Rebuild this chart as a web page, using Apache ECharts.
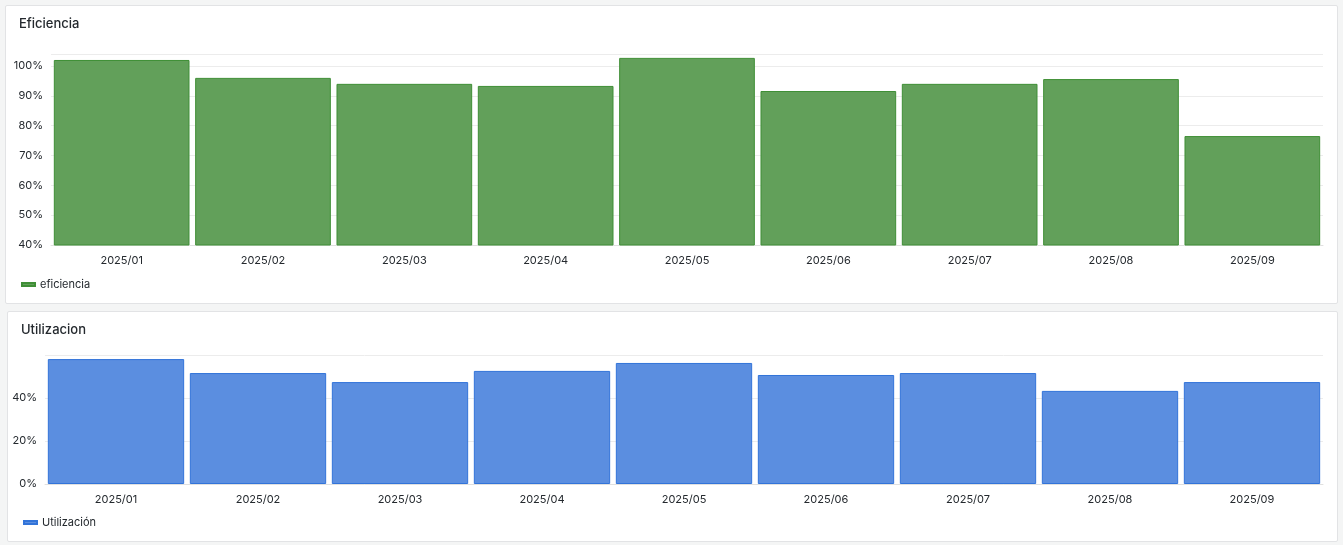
<!DOCTYPE html>
<html>
<head>
<meta charset="utf-8">
<script src="https://cdn.jsdelivr.net/npm/echarts@6/dist/echarts.min.js"></script>
<style>
    body {margin: 0; background: #f4f5f5; font-family: Inter, sans-serif;}
    .panel {position: absolute; background: #fff; border: 1px solid #e2e3e5; border-radius: 2px;}
</style>
</head>
<body>
<div id="p1" class="panel" style="left:5px;top:5px;width:1331px;height:297px"></div>
<div id="p2" class="panel" style="left:7px;top:311px;width:1329px;height:229px"></div>
<script>
const months = ['2025/01', '2025/02', '2025/03', '2025/04', '2025/05', '2025/06', '2025/07', '2025/08', '2025/09'];
const eficiencia = [102.0, 96.0, 94.0, 93.3, 102.7, 91.6, 94.0, 95.6, 76.5];
const utilizacion = [58.1, 51.6, 47.4, 52.6, 56.3, 50.7, 51.6, 43.3, 47.4];

function panel(el, title, name, data, grid, yMin, yMax, yInt, fill, line) {
    const chart = echarts.init(document.getElementById(el));
    chart.setOption({
        animation: false,
        textStyle: {fontFamily: 'Inter'},
        title: {text: title, left: 8, top: 7, textStyle: {fontSize: 13, fontWeight: 500, color: '#24292e'}},
        legend: {
            left: 10, bottom: 8, icon: 'rect', itemWidth: 13, itemHeight: 3,
            textStyle: {fontSize: 11, color: '#24292e'}
        },
        grid: grid,
        xAxis: {
            type: 'category', data: months,
            axisTick: {show: false},
            axisLine: {lineStyle: {color: '#e0e0e0'}},
            axisLabel: {fontSize: 11, color: '#24292e', margin: 10}
        },
        yAxis: {
            type: 'value', min: yMin, max: yMax, interval: yInt,
            axisLabel: {fontSize: 11, color: '#24292e', formatter: '{value}%', showMaxLabel: false},
            splitLine: {lineStyle: {color: '#ececec'}}
        },
        series: [{
            name: name, type: 'bar', data: data,
            barCategoryGap: '4%',
            itemStyle: {color: fill, borderColor: line, borderWidth: 1},
            color: line
        }]
    });
}

panel('p1', 'Eficiencia', 'eficiencia', eficiencia,
    {left: 45, right: 14, top: 48, bottom: 58}, 40, 104, 10, '#62a05a', '#3f8f36');
panel('p2', 'Utilizacion', 'Utilización', utilizacion,
    {left: 37, right: 14, top: 43, bottom: 57}, 0, 60, 20, '#5b8ee0', '#3274d9');
</script>
</body>
</html>
